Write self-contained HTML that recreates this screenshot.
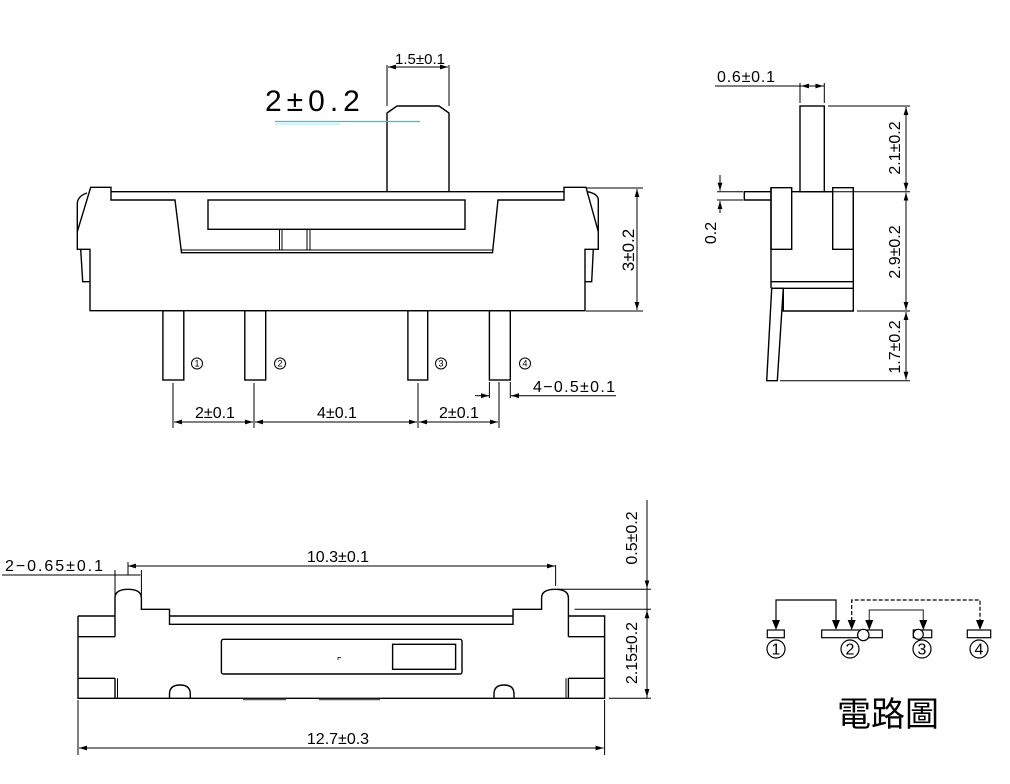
<!DOCTYPE html>
<html><head><meta charset="utf-8"><style>
html,body{margin:0;padding:0;background:#fff}
svg{display:block}
text{font-family:"Liberation Sans",sans-serif;fill:#000}
</style></head><body>
<svg width="1010" height="784" viewBox="0 0 1010 784" xmlns="http://www.w3.org/2000/svg">
<defs>
<marker id="a" viewBox="0 0 10 6" refX="10" refY="3" markerWidth="8" markerHeight="5" orient="auto-start-reverse" markerUnits="userSpaceOnUse"><path d="M0,0 L10,3 L0,6 z" fill="#000"/></marker>
</defs>
<g fill="none" stroke="#000" stroke-width="1.4">
<path d="M387,192 L387,113 L397,106 L439,106 L449,113 L449,192"/>
<path d="M90.7,187.3 L111,187.3 L111,191.7 L564,191.7 L564,187.3 L586,187.3 L598.3,231.7 L598.3,249.3 L585,249.3 L585,310.7 L90,310.7 L90,249.3 L77.3,249.3 L77.3,231.7 Z"/>
<path d="M111,191.7 L111,200 L175,200 L181.5,252.7 L492.5,252.7 L498,200 L564,200 L564,191.7"/>
<path d="M181.5,250 L492.5,250" stroke-width="1"/>
<path d="M87,193 Q78,196 77.3,203 L77.3,231.7"/>
<path d="M587.7,191.7 Q598.3,194 598.3,200 L598.3,231.7"/>
<path d="M80.7,249.3 L82.7,281.7 L90,281.7"/>
<path d="M585,281.7 L591.7,281.7 L593.3,249.3"/>
<rect x="208" y="200" width="257" height="29.3"/>
<path d="M279.5,229.3 V250 M282,229.3 V250 M307,229.3 V250 M310,229.3 V250" stroke-width="1"/>
<rect x="162.9" y="310.7" width="20.9" height="69.3"/>
<rect x="244.8" y="310.7" width="20.9" height="69.3"/>
<rect x="407.9" y="310.7" width="19.8" height="69.3"/>
<rect x="489.4" y="310.7" width="20.9" height="69.3"/>
</g>
<g fill="none" stroke="#000" stroke-width="1">
<path d="M387,65 V106 M449,65 V106"/>
<path d="M388,67 H448" marker-start="url(#a)" marker-end="url(#a)"/>
<path d="M173,383 V428 M254,383 V428 M418,383 V428 M499,383 V428"/>
<path d="M174,422 H253" marker-start="url(#a)" marker-end="url(#a)"/>
<path d="M255,422 H417" marker-start="url(#a)" marker-end="url(#a)"/>
<path d="M419,422 H498" marker-start="url(#a)" marker-end="url(#a)"/>
<path d="M489.4,382 V398 M499,382 V398 M510.3,382 V398"/>
<path d="M475,395.7 H489" marker-end="url(#a)"/>
<path d="M616,395.7 H511" marker-end="url(#a)"/>
<path d="M586,188 H643 M586,311 H643"/>
<path d="M637,189 V310" marker-start="url(#a)" marker-end="url(#a)"/>
</g>
<path d="M275,121.5 H420" stroke="#2cc" stroke-width="1.2"/>
<path d="M275,124 H340" stroke="#9ee" stroke-width="1"/>
<text x="265" y="111" font-size="30" letter-spacing="5" font-family="DejaVu Sans, sans-serif">2±0.2</text>
<text x="420" y="64" font-size="15" text-anchor="middle">1.5±0.1</text>
<text x="215" y="418" font-size="16" text-anchor="middle">2±0.1</text>
<text x="337" y="418" font-size="16" text-anchor="middle">4±0.1</text>
<text x="459" y="418" font-size="16" text-anchor="middle">2±0.1</text>
<text x="533" y="392" font-size="16" textLength="82">4−0.5±0.1</text>
<text transform="translate(634,250) rotate(-90)" font-size="17" text-anchor="middle">3±0.2</text>
<g fill="none" stroke="#000" stroke-width="1">
<circle cx="197" cy="363.5" r="5.5"/><circle cx="280" cy="363.5" r="5.5"/><circle cx="441" cy="363.5" r="5.5"/><circle cx="525" cy="363.5" r="5.5"/>
</g>
<g font-size="9" text-anchor="middle">
<text x="197" y="366.7">1</text><text x="280" y="366.7">2</text><text x="441" y="366.7">3</text><text x="525" y="366.7">4</text>
</g>

<g fill="none" stroke="#000" stroke-width="1.4">
<rect x="800" y="106" width="24.3" height="85.7"/>
<path d="M771,187.7 H791.7 V249.3 H771 Z M832.7,187.7 H853.3 V249.3 H832.7 Z"/>
<path d="M771,187.7 V288.3 M853.3,187.7 V311 H783.3 V288.3 M771,281.7 H853.3 M771,288.3 H853.3 M791.7,191.7 H832.7"/>
<path d="M771.7,288.3 L783.3,288.3 L777.3,380.7 L766.7,380.7 Z"/>
<path d="M771,191.7 H744.3 V200 H771"/>
</g>
<g fill="none" stroke="#000" stroke-width="1">
<path d="M824.3,191.7 H910 M828,106 H910 M857,311 H910 M780,380.7 H910"/>
<path d="M906,107 V190.7" marker-start="url(#a)" marker-end="url(#a)"/>
<path d="M906,192.7 V310" marker-start="url(#a)" marker-end="url(#a)"/>
<path d="M906,312 V379.7" marker-start="url(#a)" marker-end="url(#a)"/>
<path d="M800,83 V103 M824.3,83 V103"/>
<path d="M715,86 H824.3"/>
<path d="M801,86 H823.3" marker-start="url(#a)" marker-end="url(#a)"/>
<path d="M717,191.7 H743 M717,200 H743"/>
<path d="M720,175 V190.7" marker-end="url(#a)"/>
<path d="M720,213 V201" marker-end="url(#a)"/>
</g>
<text x="717" y="82" font-size="16" textLength="58">0.6±0.1</text>
<text transform="translate(900,148) rotate(-90)" font-size="16" text-anchor="middle">2.1±0.2</text>
<text transform="translate(900,252) rotate(-90)" font-size="16" text-anchor="middle">2.9±0.2</text>
<text transform="translate(900,347) rotate(-90)" font-size="16" text-anchor="middle">1.7±0.2</text>
<text transform="translate(716,233) rotate(-90)" font-size="16" text-anchor="middle">0.2</text>

<g fill="none" stroke="#000" stroke-width="1.4">
<path d="M78,616 H115 M78,616 V698.3 H604.6 V616 H568.4"/>
<path d="M115,636.7 H78 M115,678.3 H78 M568.4,636.7 H604.6 M568.4,678.3 H604.6"/>
<path d="M115,698.3 V678.3 M115,636.7 V598 Q115,589.3 128,589.3 Q141.4,589.3 141.4,598 V609.3 H169.5 V624.3 H513 V609.3 H541.6 V598 Q541.6,589.3 555,589.3 Q568.4,589.3 568.4,598 V636.7 M568.4,678.3 V698.3"/>
<path d="M169.5,616 H513"/>
<path d="M117.5,678.3 V698 M566,678.3 V698" stroke-width="1"/>
<rect x="221.4" y="639.3" width="240.6" height="34.7" rx="2"/>
<rect x="392.6" y="644.3" width="63" height="25"/>
<path d="M169.5,698.3 V694 Q169.5,685 180,685 Q190.3,685 190.3,694 V698.3"/>
<path d="M494,698.3 V694 Q494,685 504,685 Q514,685 514,694 V698.3"/>
<path d="M243,699.5 H286 M319,699.5 H380" stroke-width="1.5" stroke="#555"/>
</g>
<path d="M338,660 V657.5 H341" stroke="#c00" stroke-width="1" fill="none"/>
<g fill="none" stroke="#000" stroke-width="1">
<path d="M555.6,565 V586"/>
<path d="M128,566 H555" marker-start="url(#a)" marker-end="url(#a)"/>
<path d="M115,570 V596 M141.4,570 V596 M128,562 V575"/>
<path d="M2,575 H140.5"/>
<path d="M557,589.3 H651 M574.6,609.3 H651 M609,698.3 H651"/>
<path d="M647,500 V698"/>
<path d="M647,501 V588.3" marker-end="url(#a)"/>
<path d="M647,610.3 V697" marker-start="url(#a)" marker-end="url(#a)"/>
<path d="M78,700 V755 M604.6,700 V755"/>
<path d="M79,748 H603.6" marker-start="url(#a)" marker-end="url(#a)"/>
</g>
<text x="338" y="562" font-size="16" text-anchor="middle">10.3±0.1</text>
<text x="5" y="571" font-size="16" textLength="98">2−0.65±0.1</text>
<text transform="translate(637,538) rotate(-90)" font-size="16" text-anchor="middle">0.5±0.2</text>
<text transform="translate(637,653) rotate(-90)" font-size="16" text-anchor="middle">2.15±0.2</text>
<text x="338" y="744" font-size="16" text-anchor="middle">12.7±0.3</text>

<g fill="none" stroke="#000" stroke-width="1.2">
<rect x="767.3" y="630" width="17" height="7.7"/>
<rect x="821.7" y="630" width="60.6" height="7.7"/>
<rect x="913.3" y="630" width="18.4" height="7.7"/>
<rect x="967.3" y="630" width="23.4" height="7.7"/>
<circle cx="863.3" cy="635" r="5.7" fill="#fff"/>
<circle cx="918.3" cy="634.3" r="5" fill="#fff"/>
<path d="M776,621 V600 H836 V621"/>
<path d="M851.7,621 V600 H980 V621" stroke-dasharray="4,2"/>
<path d="M869.3,621 V610 H923.3 V621" stroke="#444"/>
<circle cx="776" cy="649" r="9"/><circle cx="850" cy="649" r="9"/><circle cx="922" cy="649" r="9"/><circle cx="979" cy="649" r="9"/>
</g>
<g fill="#000"><path d="M772,620 L780,620 L776,630 z"/><path d="M832,620 L840,620 L836,630 z"/><path d="M847.7,620 L855.7,620 L851.7,630 z"/><path d="M865.3,620 L873.3,620 L869.3,630 z"/><path d="M919.3,620 L927.3,620 L923.3,630 z"/><path d="M976,620 L984,620 L980,630 z"/></g>
<g font-size="16" text-anchor="middle" font-family="'Liberation Serif',serif">
<text x="776" y="654.5">1</text><text x="850" y="654.5">2</text><text x="922" y="654.5">3</text><text x="979" y="654.5">4</text>
</g>
<text x="888" y="726" font-size="34" text-anchor="middle" font-family="'Liberation Sans','Noto Sans CJK TC',sans-serif">電路圖</text>
</svg>
</body></html>
